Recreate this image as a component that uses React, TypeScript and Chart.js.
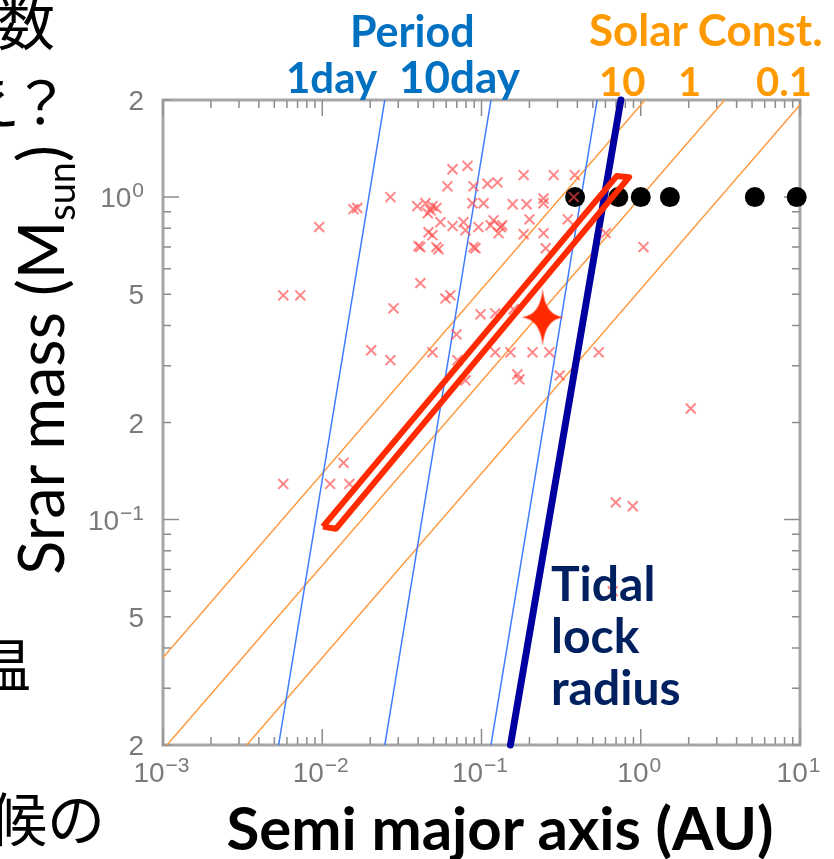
import React, { useEffect, useRef } from 'react';
import { Chart, registerables } from 'chart.js';

Chart.register(...registerables);

// Axis ticks (label = base with superscript exponent)
const xTickValues = [0.001, 0.01, 0.1, 1, 10];
const xTickBase = ['10', '10', '10', '10', '10'];
const xTickExp = ['−3', '−2', '−1', '0', '1'];
const yTickValues = [0.02, 0.05, 0.1, 0.2, 0.5, 1, 2];
const yTickBase = ['2', '5', '10', '2', '5', '10', '2'];
const yTickExp = ['', '', '−1', '', '', '0', ''];

// Known exoplanet hosts: semi major axis (AU) and star mass (Msun)
const planetA = [
  0.0658, 0.0817, 0.184, 0.284, 0.385, 0.0611, 0.0891, 0.109, 0.126, 0.0268,
  0.0157, 0.0166, 0.0395, 0.0445, 0.0478, 0.0492, 0.0521, 0.046, 0.0877, 0.103,
  0.157, 0.192, 0.245, 0.245, 0.38, 0.00957, 0.0552, 0.0658, 0.0771, 0.0793,
  0.0957, 0.114, 0.119, 0.132, 0.128, 0.135, 0.0465, 0.0492, 0.2, 0.348,
  0.184, 0.245, 0.603, 0.0402, 0.0413, 0.0521, 0.0537, 0.0891, 0.0916, 0.253,
  1.04, 0.00569, 0.00728, 0.0413, 0.0594, 0.0638, 0.028, 0.0986, 0.122, 0.159,
  0.0697, 0.0203, 0.0268, 0.0492, 0.122, 0.152, 0.209, 0.267, 0.545, 0.0706,
  0.0793, 0.168, 0.173, 0.31, 2.06, 0.00569, 0.0112, 0.0148, 0.0136, 0.697,
  0.891, 0.667,
];
const planetM = [
  1.22, 1.25, 1.17, 1.17, 1.17, 1.08, 1.08, 1.1, 1.11, 1.0,
  0.917, 0.925, 0.937, 0.957, 0.91, 0.937, 0.925, 0.891, 0.957, 0.957,
  0.95, 0.95, 0.99, 0.957, 1.0, 0.807, 0.836, 0.813, 0.836, 0.789,
  0.807, 0.818, 0.847, 0.807, 0.773, 0.818, 0.778, 0.762, 0.853, 0.853,
  0.767, 0.773, 0.773, 0.705, 0.7, 0.7, 0.689, 0.7, 0.694, 0.694,
  0.7, 0.496, 0.496, 0.541, 0.485, 0.496, 0.452, 0.433, 0.436, 0.449,
  0.375, 0.335, 0.312, 0.33, 0.33, 0.33, 0.33, 0.33, 0.33, 0.312,
  0.27, 0.282, 0.272, 0.28, 0.221, 0.129, 0.129, 0.129, 0.15, 0.113,
  0.11, 0.06,
];

// Solar system planets (Mercury ... Saturn)
const solarSystemA = [0.387, 0.723, 1.0, 1.524, 5.203, 9.537];
const solarSystemM = [1, 1, 1, 1, 1, 1];

// Orbital period lines (1, 10, 100 day), end points at M = 0.02 and M = 2
const periodNames = ['1day', '10day', '100day'];
const periodLowA = [0.00532, 0.0247, 0.1147];
const periodHighA = [0.0247, 0.1147, 0.532];
const lineEndM = [0.02, 2];

// Solar constant lines (10, 1, 0.1)
const solarNames = ['10', '1', '0.1'];
const solarLowA = [0.000336, 0.00106, 0.00336];
const solarHighA = [1.064, 3.364, 10.64];

// Tidal lock radius
const tidalA = [0.152, 0.75];
const tidalM = [0.02, 2];

// Highlighted region (outline)
const boxA = [0.0101, 0.0122, 0.845, 0.706, 0.0101];
const boxM = [0.0951, 0.0937, 1.153, 1.162, 0.0951];

// Star marker
const starA = [0.242];
const starM = [0.424];

const zip = (xs: number[], ys: number[]) => xs.map((x, i) => ({ x, y: ys[i] }));

function makeStar(): HTMLCanvasElement {
  const c = document.createElement('canvas');
  const w = 42, h = 58;
  c.width = w; c.height = h;
  const g = c.getContext('2d')!;
  const cx = w / 2, cy = h / 2;
  g.fillStyle = '#ff2a00';
  g.beginPath();
  g.moveTo(cx, 0);
  g.quadraticCurveTo(cx + 2, cy - 2, w, cy);
  g.quadraticCurveTo(cx + 2, cy + 2, cx, h);
  g.quadraticCurveTo(cx - 2, cy + 2, 0, cy);
  g.quadraticCurveTo(cx - 2, cy - 2, cx, 0);
  g.closePath();
  g.fill();
  return c;
}

const labelFamily = "'Liberation Sans', Arial, sans-serif";
const labelColor = '#7a7a7a';
const baseSize = 28;
const expSize = 21;

const framePlugin = {
  id: 'frameTicks',
  beforeDatasetsDraw(chart: any) {
    const { ctx, chartArea, scales } = chart;
    const { left, right, top, bottom } = chartArea;
    const xs = scales.x, ys = scales.y;
    ctx.save();
    ctx.strokeStyle = '#8c8c8c';
    ctx.lineWidth = 1.5;
    ctx.beginPath();
    for (let e = -3; e <= 1; e++) {
      for (let m = 1; m <= 9; m++) {
        const v = m * Math.pow(10, e);
        if (v > 10 + 1e-9) break;
        const px = xs.getPixelForValue(v);
        const len = m === 1 ? 16 : 8;
        ctx.moveTo(px, bottom); ctx.lineTo(px, bottom - len);
        ctx.moveTo(px, top); ctx.lineTo(px, top + len);
      }
    }
    for (let e = -2; e <= 0; e++) {
      for (let m = 1; m <= 9; m++) {
        const v = m * Math.pow(10, e);
        if (v < 0.02 - 1e-9 || v > 2 + 1e-9) continue;
        const py = ys.getPixelForValue(v);
        const len = m === 1 ? 16 : 8;
        ctx.moveTo(left, py); ctx.lineTo(left + len, py);
        ctx.moveTo(right, py); ctx.lineTo(right - len, py);
      }
    }
    ctx.stroke();
    ctx.strokeStyle = 'rgba(150,150,150,0.85)';
    ctx.lineWidth = 3;
    ctx.strokeRect(left, top, right - left, bottom - top);
    ctx.restore();
  },
  afterDraw(chart: any) {
    const { ctx, chartArea, scales } = chart;
    const xs = scales.x, ys = scales.y;
    ctx.save();
    ctx.fillStyle = labelColor;
    ctx.textBaseline = 'alphabetic';
    ctx.textAlign = 'left';
    const fb = `${baseSize}px ${labelFamily}`;
    const fe = `${expSize}px ${labelFamily}`;
    // x labels
    xTickValues.forEach((v, i) => {
      const px = xs.getPixelForValue(v);
      ctx.font = fb;
      const wb = ctx.measureText(xTickBase[i]).width;
      ctx.font = fe;
      const we = ctx.measureText(xTickExp[i]).width;
      const x0 = px - (wb + we) / 2 - 2;
      const yb = chartArea.bottom + 37;
      ctx.font = fb;
      ctx.fillText(xTickBase[i], x0, yb);
      ctx.font = fe;
      ctx.fillText(xTickExp[i], x0 + wb + 1, yb - 10);
    });
    // y labels (right aligned)
    const xr = chartArea.left - 19;
    yTickValues.forEach((v, i) => {
      const py = ys.getPixelForValue(v);
      ctx.font = fe;
      const we = yTickExp[i] ? ctx.measureText(yTickExp[i]).width + 1 : 0;
      ctx.font = fb;
      const wb = ctx.measureText(yTickBase[i]).width;
      const yb = py + 10;
      ctx.fillText(yTickBase[i], xr - we - wb, yb);
      if (yTickExp[i]) {
        ctx.font = fe;
        ctx.fillText(yTickExp[i], xr - we + 1, yb - 10);
      }
    });
    ctx.restore();
  },
};

function ChartView() {
  const ref = useRef<HTMLCanvasElement>(null);
  useEffect(() => {
    if (!ref.current) return;
    const star = makeStar();
    const chart = new Chart(ref.current, {
      type: 'scatter',
      data: {
        datasets: [
          {
            label: 'star',
            data: zip(starA, starM),
            pointStyle: star as any,
            pointRadius: 20,
            clip: false as any,
          },
          {
            label: 'region',
            data: zip(boxA, boxM),
            showLine: true,
            borderColor: '#ff2a00',
            borderWidth: 6,
            borderJoinStyle: 'round',
            pointRadius: 0,
            clip: false as any,
          },
          {
            label: 'exoplanets',
            data: zip(planetA, planetM),
            pointStyle: 'crossRot',
            pointRadius: 7,
            borderWidth: 2,
            borderColor: 'rgba(255,70,70,0.65)',
            backgroundColor: 'rgba(255,70,70,0.65)',
          },
          {
            label: 'solar system',
            data: zip(solarSystemA, solarSystemM),
            pointStyle: 'circle',
            pointRadius: 10,
            borderWidth: 0,
            backgroundColor: '#000',
            clip: false as any,
          },
          {
            label: 'tidal lock radius',
            data: zip(tidalA, tidalM),
            showLine: true,
            borderColor: '#0000a0',
            borderWidth: 7,
            borderCapStyle: 'round',
            pointRadius: 0,
            clip: false as any,
          },
          ...periodNames.map((n, i) => ({
            label: 'period ' + n,
            data: zip([periodLowA[i], periodHighA[i]], lineEndM),
            showLine: true,
            borderColor: '#3d7bff',
            borderWidth: 1.5,
            pointRadius: 0,
          })),
          ...solarNames.map((n, i) => ({
            label: 'solar const ' + n,
            data: zip([solarLowA[i], solarHighA[i]], lineEndM),
            showLine: true,
            borderColor: '#ff9a40',
            borderWidth: 1.5,
            pointRadius: 0,
          })),
        ] as any,
      },
      options: {
        responsive: false,
        maintainAspectRatio: false,
        animation: false,
        layout: { padding: { top: 100, right: 34, left: 0, bottom: 0 } },
        plugins: { legend: { display: false }, tooltip: { enabled: false } },
        scales: {
          x: {
            type: 'logarithmic',
            min: 0.001,
            max: 10,
            grid: { display: false, drawTicks: false },
            border: { display: false },
            ticks: { display: false },
            afterBuildTicks: (s: any) => {
              s.ticks = xTickValues.map((v) => ({ value: v }));
            },
            afterFit: (s: any) => {
              s.height = 114;
            },
          },
          y: {
            type: 'logarithmic',
            min: 0.02,
            max: 2,
            grid: { display: false, drawTicks: false },
            border: { display: false },
            ticks: { display: false },
            afterBuildTicks: (s: any) => {
              s.ticks = yTickValues.map((v) => ({ value: v }));
            },
            afterFit: (s: any) => {
              s.width = 163;
            },
          },
        },
      } as any,
      plugins: [framePlugin],
    });
    return () => chart.destroy();
  }, []);
  return <canvas ref={ref} width={834} height={859} style={{ position: 'absolute', left: 0, top: 0 }} />;
}

const lato = "Lato, 'Open Sans', sans-serif";
const cjk = "'Noto Sans CJK JP', sans-serif";

function T(props: { left: number; top: number; size: number; color: string; bold?: boolean; font?: string; children: React.ReactNode; lh?: number }) {
  return (
    <div
      style={{
        position: 'absolute',
        left: props.left,
        top: props.top,
        fontSize: props.size,
        lineHeight: (props.lh ?? props.size) + 'px',
        color: props.color,
        fontWeight: props.bold ? 700 : 400,
        fontFamily: props.font ?? lato,
        whiteSpace: 'pre',
      }}
    >
      {props.children}
    </div>
  );
}

export default function App() {
  return (
    <div style={{ position: 'absolute', left: 0, top: 0, width: 834, height: 859, overflow: 'hidden', background: '#fff' }}>
      <ChartView />
      {/* slide text fragments on the left */}
      <T left={-3} top={-9} size={58} color="#000" font={cjk}>数</T>
      <T left={-38} top={70} size={58} color="#000" font={cjk}>え</T>
      <T left={12} top={70} size={58} color="#000" font={cjk}>？</T>
      <T left={-27} top={633} size={58} color="#000" font={cjk}>温</T>
      <T left={-11} top={787} size={58} color="#000" font={cjk}>候の</T>

      {/* annotations */}
      <T left={350} top={9} size={43} color="#0070c0" bold>Period</T>
      <T left={286} top={56} size={42} color="#0070c0" bold>1day</T>
      <T left={399} top={54} size={44} color="#0070c0" bold>10day</T>
      <T left={589} top={7} size={44} color="#ff9900" bold>Solar Const.</T>
      <T left={599} top={61} size={40} color="#ff9900" bold>10</T>
      <T left={678} top={61} size={40} color="#ff9900" bold>1</T>
      <T left={756} top={61} size={40} color="#ff9900" bold>0.1</T>
      <T left={551} top={557} size={48} lh={52} color="#002060" bold>{'Tidal\nlock\nradius'}</T>

      {/* axis titles */}
      <div
        style={{
          position: 'absolute',
          left: 500,
          top: 797,
          transform: 'translateX(-50%)',
          fontFamily: lato,
          fontWeight: 700,
          fontSize: 60,
          lineHeight: '60px',
          color: '#000',
          whiteSpace: 'nowrap',
        }}
      >
        Semi major axis (AU)
      </div>
      <div
        style={{
          position: 'absolute',
          left: 44,
          top: 360,
          transform: 'translate(-50%, -50%) rotate(-90deg)',
          fontFamily: lato,
          fontWeight: 400,
          fontSize: 63,
          lineHeight: '63px',
          color: '#000',
          whiteSpace: 'nowrap',
        }}
      >
        Srar mass (M<span style={{ fontSize: '0.6em', position: 'relative', top: '0.3em' }}>sun</span>)
      </div>
    </div>
  );
}
